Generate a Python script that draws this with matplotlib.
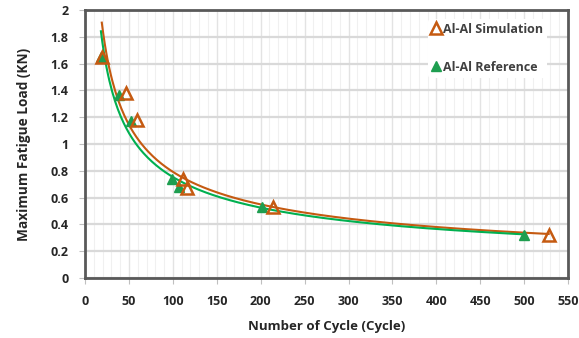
import numpy as np
import matplotlib.pyplot as plt
from matplotlib.ticker import MultipleLocator, FuncFormatter

plt.rcParams['font.family'] = ['Open Sans', 'DejaVu Sans']

sim_x = [19, 47, 59, 111, 116, 214, 528]
sim_y = [1.65, 1.38, 1.18, 0.74, 0.67, 0.53, 0.32]
ref_x = [18, 39, 52, 99, 107, 202, 500]
ref_y = [1.65, 1.37, 1.17, 0.74, 0.68, 0.53, 0.32]

orange = "#C55A11"
green = "#00B050"
txt = "#262626"


def power_fit(x, y):
    b, loga = np.polyfit(np.log(x), np.log(y), 1)
    xs = np.linspace(min(x), max(x), 300)
    return xs, np.exp(loga) * xs ** b


fig = plt.figure(figsize=(5.79, 3.38), dpi=100)
ax = fig.add_axes([0.147, 0.1775, 0.834, 0.7925])

xs, ys = power_fit(sim_x, sim_y)
ax.plot(xs, ys, color=orange, lw=1.5, zorder=3)
xs, ys = power_fit(ref_x, ref_y)
ax.plot(xs, ys, color=green, lw=1.5, zorder=3)

ax.plot(ref_x, ref_y, ls="none", marker="^", ms=7, color="#1E9E50",
        label="Al-Al Reference", zorder=4)
ax.plot(sim_x, sim_y, ls="none", marker="^", ms=9, mfc="none", mew=1.8,
        color=orange, label="Al-Al Simulation", zorder=5)

ax.set_xlim(0, 550)
ax.set_ylim(0, 2)
ax.xaxis.set_major_locator(MultipleLocator(50))
ax.xaxis.set_minor_locator(MultipleLocator(10))
ax.yaxis.set_major_locator(MultipleLocator(0.2))
ax.yaxis.set_major_formatter(FuncFormatter(lambda v, p: "%g" % round(v, 1)))

ax.grid(which="major", axis="y", color="#d9d9d9", lw=1.6)
ax.grid(which="major", axis="x", color="#e3e3e3", lw=1.0)
ax.grid(which="minor", axis="x", color="#f0f0f0", lw=0.8)
ax.set_axisbelow(True)

for s in ax.spines.values():
    s.set_color("#595959")
    s.set_linewidth(2)

ax.tick_params(which="major", length=4, color="#bfbfbf", labelsize=9,
               labelcolor=txt, pad=8)
ax.tick_params(which="minor", length=0)
for lab in ax.get_xticklabels() + ax.get_yticklabels():
    lab.set_fontweight("bold")

ax.set_xlabel("Number of Cycle (Cycle)", fontsize=9.5, fontweight="bold",
              color=txt, labelpad=9)
ax.set_ylabel("Maximum Fatigue Load (KN)", fontsize=9.8, fontweight="bold",
              color=txt, labelpad=14)

h, l = ax.get_legend_handles_labels()
leg = ax.legend(h[::-1], l[::-1], loc="upper right", bbox_to_anchor=(0.97, 0.99),
                frameon=True, handlelength=0.6, handletextpad=0.3,
                labelspacing=2.0, fontsize=9, borderpad=0.3)
leg.get_frame().set_facecolor("white")
leg.get_frame().set_edgecolor("none")
leg.get_frame().set_alpha(1)
for t in leg.get_texts():
    t.set_fontweight("bold")
    t.set_color("#404040")

fig.savefig("out.png", dpi=100)
